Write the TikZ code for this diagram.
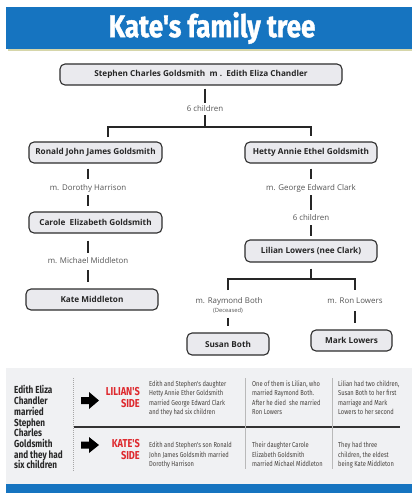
\documentclass[tikz,border=0pt]{standalone}
\usepackage{fontspec}
\setmainfont{Open Sans}
\newfontfamily\titlefont[FakeStretch=0.84,FakeBold=1.2]{Fira Sans}
\newfontfamily\condfont[FakeStretch=0.8]{Fira Sans}
\definecolor{titleblue}{RGB}{22,116,192}
\definecolor{boxfill}{RGB}{234,234,238}
\definecolor{boxline}{RGB}{45,45,45}
\definecolor{labelgray}{RGB}{85,85,85}
\definecolor{panelbg}{RGB}{240,241,243}
\definecolor{sidered}{RGB}{222,40,45}
\definecolor{paneltext}{RGB}{70,66,62}
\definecolor{shadowy}{RGB}{214,214,170}
\begin{document}
\begin{tikzpicture}[x=1pt,y=-1pt,
  person/.style={draw=boxline, line width=1.1pt, fill=boxfill, rounded corners=5pt,
    minimum height=21pt, inner sep=0pt, text=black!85,
    font=\fontsize{8.2}{9}\selectfont\bfseries},
  lbl/.style={text=labelgray, font=\fontsize{7.9}{8.5}\selectfont, inner sep=0pt},
  conn/.style={draw=black!85, line width=1.1pt},
  ptext/.style={anchor=north west, align=left, text=paneltext, inner sep=0pt,
    font=\condfont\fontsize{7.2}{9.4}\selectfont},
  sidelbl/.style={anchor=north east, align=right, text=sidered, inner sep=0pt,
    font=\condfont\bfseries\fontsize{11.5}{11.2}\selectfont},
  divider/.style={draw=gray!55, line width=0.6pt}]
\useasboundingbox (0,0) rectangle (418,500);
\fill[white] (0,0) rectangle (418,500);
% title
\fill[shadowy] (8,49) rectangle (412,51.5);
\fill[titleblue] (6,7) rectangle (412,49);
\node[text=white, font=\titlefont\bfseries\fontsize{31}{31}\selectfont, inner sep=0pt] (title) at (212,28) {Kate's family tree};
% tree nodes
\node[person, minimum width=282pt] (top) at (201,74.5) {Stephen Charles Goldsmith\ \ m .\ \ Edith Eliza Chandler};
\node[person, minimum width=133pt] (ronald) at (95.5,152.5) {Ronald John James Goldsmith};
\node[person, minimum width=132pt] (hetty) at (311,152.5) {Hetty Annie Ethel Goldsmith};
\node[person, minimum width=133pt] (carole) at (95.5,222.5) {Carole\ \ Elizabeth Goldsmith};
\node[person, minimum width=132pt] (kate) at (92,299.5) {Kate Middleton};
\node[person, minimum width=132pt, minimum height=22pt] (lilian) at (311,251) {Lilian Lowers (nee Clark)};
\node[person, minimum width=82pt, minimum height=22pt] (susan) at (228,344) {Susan Both};
\node[person, minimum width=81pt] (mark) at (351.5,340.5) {Mark Lowers};
% labels
\node[lbl] (sixA) at (205,109) {6 children};
\node[lbl] (mdor) at (88,188) {m. Dorothy Harrison};
\node[lbl] (mgeo) at (311,188) {m. George Edward Clark};
\node[lbl] (sixB) at (311,218) {6 children};
\node[lbl] (mmic) at (88,261) {m. Michael Middleton};
\node[lbl] (mray) at (229,301) {m. Raymond Both};
\node[lbl, font=\fontsize{5.8}{6}\selectfont] (dec) at (228,311) {(Deceased)};
\node[lbl] (mron) at (355,301) {m. Ron Lowers};
% junction coordinates
\coordinate (j1) at (205,127);
\coordinate (rj) at (108,137);
\coordinate (j2) at (311,279);
\coordinate (lj) at (228,290);
\coordinate (rjj) at (355,290);
% connectors
\draw[conn] ([yshift=-3pt]top.south -| sixA) -- ([yshift=3pt]sixA.north);
\draw[conn] ([yshift=-3pt]sixA.south) -- (j1);
\draw[conn] (rj) -- (rj |- j1) -- (hetty.north |- j1) -- ([yshift=5pt]hetty.north);
\draw[conn] ([yshift=-5pt]ronald.south -| mdor) -- ([yshift=5pt]mdor.north);
\draw[conn] ([yshift=-3pt]mdor.south) -- ([yshift=5pt]carole.north -| mdor);
\draw[conn] ([yshift=-7pt]carole.south -| mmic) -- ([yshift=5pt]mmic.north);
\draw[conn] ([yshift=-6pt]mmic.south) -- ([yshift=6pt]kate.north -| mmic);
\draw[conn] ([yshift=-5pt]hetty.south) -- ([yshift=5pt]mgeo.north);
\draw[conn] ([yshift=-3pt]mgeo.south) -- ([yshift=5pt]sixB.north);
\draw[conn] ([yshift=-4pt]sixB.south) -- ([yshift=3pt]lilian.north);
\draw[conn] ([yshift=-6pt]lilian.south) -- (j2);
\draw[conn] (lj) -- (lj |- j2) -- (rjj |- j2) -- (rjj);
\draw[conn] ([yshift=-4pt]dec.south) -- ([yshift=6pt]susan.north);
\draw[conn] ([yshift=-7pt]mron.south) -- ([yshift=6pt]mark.north -| mron);
% bottom panel
\fill[panelbg] (6,368) rectangle (412,484);
\fill[titleblue] (6,484) rectangle (412,493);
\node[anchor=north west, align=left, text=black!85, inner sep=0pt,
  font=\condfont\bfseries\fontsize{10.2}{10.7}\selectfont] (story) at (14,385.5)
  {Edith Eliza\\Chandler\\married\\Stephen\\Charles\\Goldsmith\\and they had\\six children};
\coordinate (dtop) at (73,378);
\coordinate (dbot) at (73,472);
\draw[gray!70, line width=0.6pt, dash pattern=on 1pt off 1pt] (dtop) -- (dbot);
\coordinate (hl) at (74,427);
\coordinate (hr) at (400,427);
\draw[black!80, line width=1.6pt] (hl) -- (hr);
\coordinate (d1t) at (245,378);
\coordinate (d1b) at (245,469);
\coordinate (d2t) at (332,378);
\coordinate (d2b) at (332,469);
\draw[divider] (d1t) -- (d1b);
\draw[divider] (d2t) -- (d2b);
% arrows
\fill[black] (81,397) -- (89,397) -- (89,392) -- (99,400.5) -- (89,409) -- (89,404) -- (81,404) -- cycle;
\fill[black] (81,441.5) -- (89,441.5) -- (89,437) -- (99,445) -- (89,453) -- (89,448.5) -- (81,448.5) -- cycle;
\node[sidelbl] (lil) at (140,387.5) {LILIAN'S\\SIDE};
\node[sidelbl] (kat) at (140,439.5) {KATE'S\\SIDE};
% panel texts
\node[ptext] (l1) at (149,380.5) {Edith and Stephen's daughter\\Hetty Annie Ether Goldsmith\\married George Edward Clark\\and they had six children};
\node[ptext] (l2) at (252,380.5) {One of them is Lilian, who\\married Raymond Both.\\After he died\ \ she married\\Ron Lowers};
\node[ptext] (l3) at (338,380.5) {Lilian had two children,\\Susan Both to her first\\marriage and Mark\\Lowers to her second};
\node[ptext] (k1) at (149,442) {Edith and Stephen's son Ronald\\John James Goldsmith married\\Dorothy Harrison};
\node[ptext] (k2) at (252,442) {Their daughter Carole\\Elizabeth Goldsmith\\married Michael Middleton};
\node[ptext] (k3) at (338,442) {They had three\\children, the eldest\\being Kate Middleton};
\end{tikzpicture}
\end{document}
